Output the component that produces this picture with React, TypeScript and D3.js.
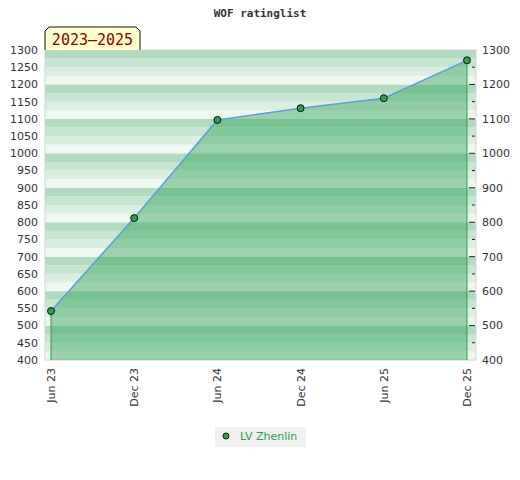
import * as d3 from 'd3';

const periods = ['Jun 23', 'Dec 23', 'Jun 24', 'Dec 24', 'Jun 25', 'Dec 25'];
const ratings = [542, 812, 1097, 1131, 1160, 1270];
const leftTicks = d3.range(400, 1301, 50);
const rightTicks = d3.range(400, 1301, 100);
const seriesName = 'LV Zhenlin';
const title = 'WOF ratinglist';
const rangeLabel = '2023\u20132025';

// band shades, lightest -> darkest within each 100 block
const bandColors = ['#eff7f1', '#dbeee2', '#c7e6d2', '#b1dbc0'];

const W = 520;
const H = 480;
const plot = { left: 45, right: 476, top: 50, bottom: 360 };

export default function App() {
  const x = d3.scalePoint<string>().domain(periods).range([51, 467]);
  const y = d3.scaleLinear().domain([400, 1300]).range([plot.bottom, plot.top]);

  const pts = periods.map((p, i) => [x(p) as number, y(ratings[i])] as [number, number]);
  const line = d3.line()(pts) || '';
  const area = d3.area<[number, number]>()
    .x((d) => d[0])
    .y0(y(400))
    .y1((d) => d[1])(pts) || '';

  const bands = d3.range(400, 1300, 25);
  const font = '"DejaVu Sans", Verdana, sans-serif';

  return (
    <div style={{ position: 'absolute', left: 0, top: 0 }}>
      <svg width={W} height={H} style={{ display: 'block', background: '#fff' }}>
        <text x={260} y={17} textAnchor="middle" fontFamily='"DejaVu Sans Mono", monospace'
          fontWeight="bold" fontSize={11} fill="#333">{title}</text>

        {bands.map((v) => (
          <rect key={v} x={plot.left} y={y(v + 25)} width={plot.right - plot.left}
            height={y(v) - y(v + 25)} fill={bandColors[((v - 400) / 25) % 4]} />
        ))}
        <rect x={plot.left} y={plot.top} width={plot.right - plot.left}
          height={plot.bottom - plot.top} fill="none" stroke="#d4d4d4" />

        <path d={area} fill="rgb(38,160,78)" fillOpacity={0.42} />
        <line x1={pts[0][0]} x2={pts[0][0]} y1={pts[0][1]} y2={plot.bottom} stroke="#2e9e50" />
        <line x1={pts[pts.length - 1][0]} x2={pts[pts.length - 1][0]}
          y1={pts[pts.length - 1][1]} y2={plot.bottom} stroke="#2e9e50" />
        <path d={line} fill="none" stroke="#5b9fd8" strokeWidth={1.5} />
        {pts.map((p, i) => (
          <circle key={i} cx={p[0]} cy={p[1]} r={3.5} fill="#2e9e50" stroke="#111" strokeWidth={1} />
        ))}

        {leftTicks.map((v) => (
          <text key={v} x={38} y={y(v)} dy="0.35em" textAnchor="end" fontFamily={font}
            fontSize={11} fill="#333">{v}</text>
        ))}
        {leftTicks.filter((v) => v > 400 && v < 1300).map((v) => (
          <line key={v} x1={v % 100 === 0 ? 469 : 472} x2={475} y1={y(v)} y2={y(v)}
            stroke="#222" />
        ))}
        {rightTicks.map((v) => (
          <text key={v} x={482} y={y(v)} dy="0.35em" fontFamily={font}
            fontSize={11} fill="#333">{v}</text>
        ))}

        {periods.map((p) => (
          <text key={p} transform={`translate(${(x(p) as number) + 4},368) rotate(-90)`}
            textAnchor="end" fontFamily={font} fontSize={11} fill="#333">{p}</text>
        ))}

        <path d={`M45,50 L45,31 L49,27 L136,27 L140,31 L140,50`} fill="#ffffcc" stroke="#111" />
        <text x={92.5} y={45} textAnchor="middle" fontFamily='"DejaVu Sans Mono", monospace'
          fontSize={15} fill="#8b0000">{rangeLabel}</text>

        <rect x={215} y={427} width={91} height={20} fill="#f0f0f0" />
        <circle cx={226} cy={436} r={3} fill="#2e9e50" stroke="#111" />
        <text x={240} y={436} dy="0.35em" fontFamily={font} fontSize={11} fill="#2e9e50">{seriesName}</text>
      </svg>
    </div>
  );
}
